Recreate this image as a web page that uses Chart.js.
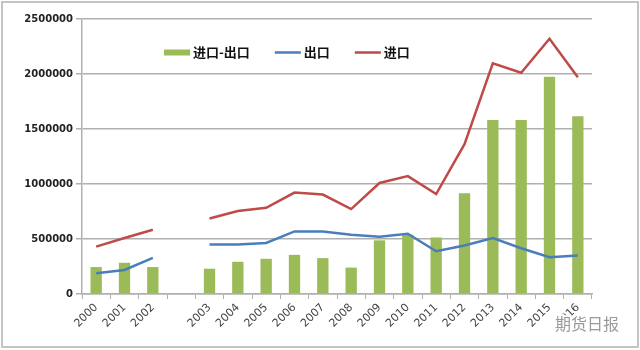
<!DOCTYPE html>
<html>
<head>
<meta charset="utf-8">
<script src="https://cdn.jsdelivr.net/npm/chart.js@4/dist/chart.umd.min.js"></script>
<style>
  html, body { margin: 0; padding: 0; background: #fff; }
  #wrap { width: 640px; height: 350px; position: relative; }
</style>
</head>
<body>
<div id="wrap"><canvas id="myChart" width="640" height="350"></canvas></div>
<script>
// years, with one empty slot between 2002 and 2003
const years = ['2000', '2001', '2002', '', '2003', '2004', '2005', '2006', '2007', '2008',
    '2009', '2010', '2011', '2012', '2013', '2014', '2015', '2016'];
const diffVals = [245000, 284000, 245000, null, 230000, 293000, 320000, 356000, 326000, 240000,
    488000, 539000, 514000, 915000, 1581000, 1581000, 1976000, 1617000];
const exportVals = [189000, 219000, 329000, null, 449000, 451000, 464000, 569000, 569000, 539000,
    521000, 548000, 389000, 441000, 508000, 416000, 334000, 350000];
const importVals = [431000, 509000, 584000, null, 686000, 754000, 784000, 922000, 904000, 772000,
    1009000, 1072000, 909000, 1362000, 2098000, 2012000, 2320000, 1970000];
const yTicks = [0, 500000, 1000000, 1500000, 2000000, 2500000];

const gridColor = '#b0b0b0';

// white background + gray frame
const framePlugin = {
    id: 'frame',
    beforeDraw(chart) {
        const ctx = chart.ctx;
        ctx.save();
        ctx.fillStyle = '#fff';
        ctx.fillRect(0, 0, chart.width, chart.height);
        ctx.strokeStyle = '#c4c4c4';
        ctx.lineWidth = 2;
        ctx.strokeRect(2, 2, chart.width - 4, chart.height - 5);
        ctx.restore();
    }
};

// legend drawn inside the plot, like the excel original
const innerLegend = {
    id: 'innerLegend',
    afterDraw(chart) {
        const ctx = chart.ctx;
        const y = 52.5;
        let x = 164;
        ctx.save();
        ctx.font = 'bold 13px "Noto Sans CJK SC"';
        ctx.textBaseline = 'middle';
        chart.data.datasets.forEach((ds) => {
            if (ds.type === 'line') {
                ctx.strokeStyle = ds.borderColor;
                ctx.lineWidth = 2.5;
                ctx.beginPath();
                ctx.moveTo(x, y);
                ctx.lineTo(x + 26, y);
                ctx.stroke();
            } else {
                ctx.fillStyle = ds.backgroundColor;
                ctx.fillRect(x, y - 3, 26, 6);
            }
            x += 29;
            ctx.fillStyle = '#111';
            ctx.fillText(ds.label, x, y);
            x += ctx.measureText(ds.label).width + 25;
        });

        // watermark
        ctx.font = '16px "Noto Sans CJK SC"';
        ctx.textBaseline = 'alphabetic';
        ctx.lineWidth = 4;
        ctx.strokeStyle = 'rgba(255,255,255,0.9)';
        ctx.strokeText('期货日报', 555, 330);
        ctx.fillStyle = '#9a9a9a';
        ctx.fillText('期货日报', 555, 330);
        ctx.restore();
    }
};

const ctx = document.getElementById('myChart').getContext('2d');
new Chart(ctx, {
    type: 'bar',
    data: {
        labels: years,
        datasets: [{
            type: 'bar',
            label: '进口-出口',
            data: diffVals,
            backgroundColor: '#9bbb59',
            barPercentage: 0.4,
            categoryPercentage: 1,
            order: 3
        }, {
            type: 'line',
            label: '出口',
            data: exportVals,
            borderColor: '#4a7ebb',
            borderWidth: 2.5,
            pointRadius: 0,
            tension: 0,
            spanGaps: false,
            order: 2
        }, {
            type: 'line',
            label: '进口',
            data: importVals,
            borderColor: '#be4b48',
            borderWidth: 2.5,
            pointRadius: 0,
            tension: 0,
            spanGaps: false,
            order: 1
        }]
    },
    options: {
        responsive: false,
        animation: false,
        layout: { padding: { left: 0, right: 48, top: 19, bottom: 0 } },
        plugins: {
            legend: { display: false },
            tooltip: { enabled: false }
        },
        scales: {
            x: {
                offset: true,
                grid: {
                    offset: true,
                    drawOnChartArea: false,
                    color: gridColor,
                    tickLength: 5
                },
                border: { color: gridColor, width: 1.5 },
                ticks: {
                    autoSkip: false,
                    maxRotation: 45,
                    minRotation: 45,
                    color: '#444',
                    font: { family: 'DejaVu Sans', size: 11 },
                    padding: 2
                },
                afterFit(scale) { scale.height = 56; }
            },
            y: {
                min: 0,
                max: 2500000,
                afterBuildTicks(scale) { scale.ticks = yTicks.map(v => ({ value: v })); },
                grid: {
                    color: gridColor,
                    lineWidth: 1.5,
                    tickLength: 6
                },
                border: { color: gridColor, width: 1.5 },
                ticks: {
                    color: '#222',
                    font: { family: 'DejaVu Sans', size: 10, weight: 'bold' },
                    padding: 3,
                    callback: (v) => String(v)
                },
                afterFit(scale) { scale.width = 82; }
            }
        }
    },
    plugins: [framePlugin, innerLegend]
});
</script>
</body>
</html>
